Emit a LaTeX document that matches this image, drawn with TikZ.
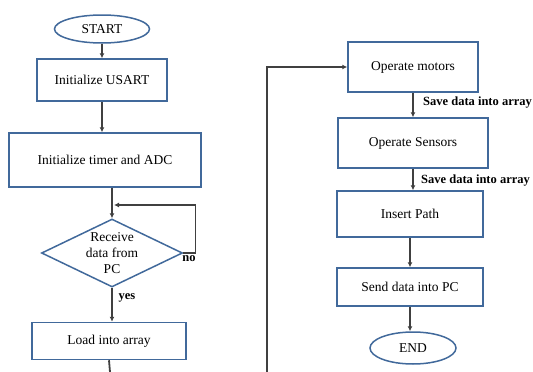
\documentclass[tikz,border=0pt]{standalone}
\usepackage{fontspec}
\setmainfont{Liberation Serif}
\usetikzlibrary{arrows.meta,positioning,shapes.geometric}

\definecolor{boxblue}{RGB}{65,105,155}
\definecolor{linegray}{RGB}{64,64,64}

\begin{document}
\begin{tikzpicture}[x=1pt,y=-1pt,>=Latex,
  flowbox/.style={draw=boxblue,line width=1.5pt,fill=white,minimum width=#1,align=center,font=\fontsize{13.5}{16}\selectfont,inner sep=2pt},
  termnode/.style={ellipse,draw=boxblue,line width=1.5pt,fill=white,font=\fontsize{13.5}{16}\selectfont,inner sep=0pt},
  decnode/.style={diamond,draw=boxblue,line width=1.5pt,fill=white,aspect=2.07,inner sep=0pt,minimum width=141pt,minimum height=68pt,align=center,font=\fontsize{13.5}{16}\selectfont},
  flowline/.style={draw=linegray,line width=1.8pt},
  flowarrow/.style={flowline,-{Latex[length=5pt,width=5pt]}},
  edgelabel/.style={font=\bfseries\fontsize{12.5}{14}\selectfont,inner sep=0pt}]
\useasboundingbox (0,0) rectangle (533,372);
\node[termnode,minimum width=95pt,minimum height=28pt] (start) at (102,29) {START};
\node[flowbox=130pt,minimum height=42pt] (usart) at (102,80) {Initialize USART};
\node[flowbox=192pt,minimum height=54pt] (timer) at (105,160) {Initialize timer and ADC};
\node[decnode] (recv) at (112,253) {Receive\\data from\\PC};
\node[flowbox=154pt,minimum height=37pt] (load) at (109,341) {Load into array};
\node[flowbox=130pt,minimum height=50pt] (motors) at (413,67) {Operate motors};
\node[flowbox=150pt,minimum height=50pt] (sensors) at (413,143) {Operate Sensors};
\node[flowbox=146pt,minimum height=46pt] (path) at (410,214) {Insert Path};
\node[flowbox=146pt,minimum height=38pt] (send) at (410,287) {Send data into PC};
\node[termnode,minimum width=86pt,minimum height=32pt] (end) at (413,348) {END};
\coordinate (loopin) at (114,205);
\coordinate (contleft) at (110,372);
\coordinate (contright) at (267,372);
\node[edgelabel,anchor=west] (save1) at (423,103) {Save data into array};
\node[edgelabel,anchor=west] (save2) at (421,181) {Save data into array};
\node[edgelabel] (nolabel) at (189,259) {no};
\node[edgelabel] (yeslabel) at (127,298) {yes};
\draw[flowarrow] (start.south) -- (start.south |- usart.north);
\draw[flowarrow] (usart.south) -- (usart.south |- timer.north);
\draw[flowarrow] (recv.north |- timer.south) -- (recv.north);
\draw[flowarrow,line width=1.1pt] (recv.east) -- ++(12,0) |- (loopin);
\draw[flowarrow] (recv.south) -- (recv.south |- load.north);
\draw[flowline] (load.south) -- (contleft);
\draw[flowarrow,line width=1.4pt] (contright) |- (motors.west);
\draw[flowarrow] (motors.south) -- (motors.south |- sensors.north);
\draw[flowarrow] (sensors.south) -- (sensors.south |- path.north);
\draw[flowarrow] (path.south) -- (send.north);
\draw[flowarrow] (send.south) -- (send.south |- end.north);
\end{tikzpicture}
\end{document}
